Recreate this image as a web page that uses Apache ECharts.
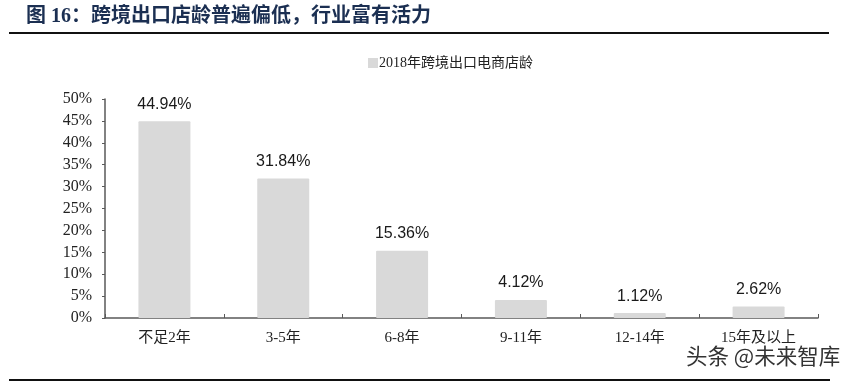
<!DOCTYPE html>
<html>
<head>
<meta charset="utf-8">
<script src="https://cdn.jsdelivr.net/npm/echarts@6/dist/echarts.min.js"></script>
<style>html,body{margin:0;padding:0;background:#fff;}#c{width:853px;height:383px;}</style>
</head>
<body>
<div id="c"></div>
<script>
const titleText = '图 16：跨境出口店龄普遍偏低，行业富有活力';
const seriesName = '2018年跨境出口电商店龄';
const categories = ['不足2年', '3-5年', '6-8年', '9-11年', '12-14年', '15年及以上'];
const values = [44.94, 31.84, 15.36, 4.12, 1.12, 2.62];
const yTicks = [0, 5, 10, 15, 20, 25, 30, 35, 40, 45, 50];
const watermark = '头条 @未来智库';

const serif = '"Liberation Serif", "Times New Roman", "Noto Sans CJK SC", serif';
const chart = echarts.init(document.getElementById('c'));
chart.setOption({
  animation: false,
  title: {
    text: titleText,
    left: 21, top: 2,
    textStyle: { fontSize: 20, fontWeight: 'bold', color: '#1b2f52', fontFamily: '"Liberation Serif", "Noto Sans CJK SC", serif' }
  },
  legend: {
    data: [seriesName],
    left: 363, top: 51,
    itemWidth: 10, itemHeight: 10, itemGap: 4,
    icon: 'rect',
    textStyle: { fontSize: 14, color: '#222', fontFamily: serif, padding: [0,0,0,-4] }
  },
  graphic: [
    { type: 'rect', shape: { x: 9, y: 32, width: 820, height: 2 }, style: { fill: '#111' } },
    { type: 'rect', shape: { x: 9, y: 379, width: 821, height: 2 }, style: { fill: '#111' } },
    { type: 'text', left: 686, top: 345, style: { text: watermark, fontSize: 21.5, fill: '#333', fontFamily: '"Noto Sans CJK SC", sans-serif' } }
  ],
  grid: { left: 105, right: 35, top: 99, bottom: 65, containLabel: false },
  xAxis: {
    type: 'category',
    data: categories,
    axisLine: { lineStyle: { color: '#595959', width: 1.5 } },
    axisTick: { show: true, inside: true, length: 4, lineStyle: { color: '#595959' } },
    axisLabel: { fontSize: 15, color: '#222', fontFamily: serif, margin: 13 }
  },
  yAxis: {
    type: 'value',
    min: 0, max: 50, interval: 5,
    axisLine: { show: true, lineStyle: { color: '#595959', width: 1.5 } },
    axisTick: { show: true, length: 3, lineStyle: { color: '#595959' } },
    splitLine: { show: false },
    axisLabel: { fontSize: 16, color: '#222', fontFamily: serif, margin: 13, formatter: v => v + '%' }
  },
  series: [{
    name: seriesName,
    type: 'bar',
    data: values,
    barWidth: 52,
    itemStyle: { color: '#d9d9d9', borderRadius: 1 },
    label: {
      show: true, position: 'top', distance: 9,
      fontSize: 16, color: '#1a1a1a', fontFamily: '"Liberation Sans", Arial, sans-serif',
      formatter: p => p.value.toFixed(2) + '%'
    }
  }]
});
</script>
</body>
</html>
